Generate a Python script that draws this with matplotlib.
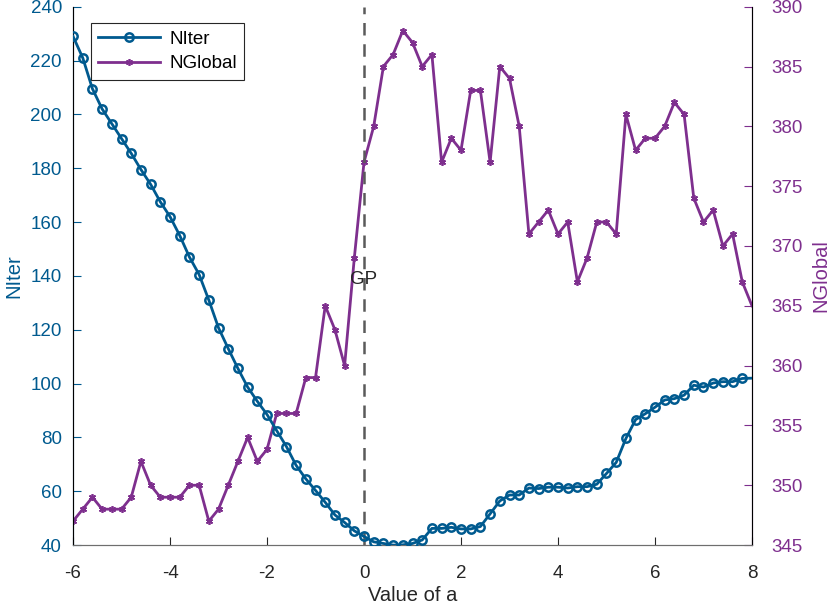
import numpy as np
import matplotlib
matplotlib.use('Agg')
import matplotlib.pyplot as plt

plt.rcParams['font.family'] = ['Liberation Sans', 'DejaVu Sans']
plt.rcParams['axes.unicode_minus'] = False

# values of a: -6 to 8 in steps of 0.2
a = np.round(np.arange(-6, 8.0001, 0.2), 1)

niter = [229, 221, 209.5, 202, 196.5, 191, 185.5, 179.5, 174, 167.5,
         162, 155, 147, 140.5, 131, 120.7, 113, 105.6, 98.7, 93.4,
         88.5, 82.5, 76.6, 69.6, 64.6, 60.3, 55.9, 51.2, 48.4, 45.3,
         43.2, 41.2, 40.6, 40, 40.1, 40.6, 41.9, 46.2, 46.2, 46.6,
         46, 46, 46.9, 51.6, 56.4, 58.6, 58.6, 61.2, 61, 61.5,
         61.5, 61.2, 61.7, 61.7, 62.6, 66.6, 70.7, 79.6, 86.6, 88.8,
         91.2, 93.9, 94.4, 95.7, 99.4, 98.7, 100.2, 100.7, 100.7, 101.9,
         102]

nglobal = [347, 348, 349, 348, 348, 348, 349, 352, 350, 349,
           349, 349, 350, 350, 347, 348, 350, 352, 354, 352,
           353, 356, 356, 356, 359, 359, 365, 363, 360, 369,
           377, 380, 385, 386, 388, 387, 385, 386, 377, 379,
           378, 383, 383, 377, 385, 384, 380, 371, 372, 373,
           371, 372, 367, 369, 372, 372, 371, 381, 378, 379,
           379, 380, 382, 381, 374, 372, 373, 370, 371, 367,
           365]

blue = '#005A8F'
purple = '#7E2F8E'
dark = '#262626'

fig = plt.figure(figsize=(8.3, 6.07), dpi=100)
ax = fig.add_axes([0.088, 0.102, 0.818, 0.887])
ax2 = ax.twinx()

l1, = ax.plot(a, niter, color=blue, lw=2, marker='o', ms=6, mew=1.8,
              mfc='none', mec=blue, markevery=slice(0, -1), label='NIter', zorder=3)
l2, = ax2.plot(a, nglobal, color=purple, lw=2, marker=(6, 2, 0), ms=5, mew=1.2,
               markevery=slice(0, -1), label='NGlobal')

ax.axvline(0, color='#5a5a5a', ls=(0, (5, 3.5)), lw=1.8)
ax.text(0, 138.5, 'GP', color=dark, fontsize=13.5, ha='center', va='center')

ax.set_xlim(-6, 8)
ax.set_ylim(40, 240)
ax2.set_ylim(345, 390)
ax.set_xticks(np.arange(-6, 9, 2))
ax.set_yticks(np.arange(40, 241, 20))
ax2.set_yticks(np.arange(345, 391, 5))

ax.spines['top'].set_visible(False)
ax2.spines['top'].set_visible(False)
ax2.spines['left'].set_color(blue)
ax2.spines['right'].set_color(purple)
ax2.spines['bottom'].set_color('#6e6e6e')
ax.spines['bottom'].set_color('#6e6e6e')

ax.tick_params(axis='y', colors=blue, direction='in', length=6, labelsize=13.5, pad=8)
ax.tick_params(axis='x', colors=dark, direction='in', length=6, labelsize=13.5, pad=14)
ax2.tick_params(axis='y', colors=purple, direction='in', length=6, labelsize=13.5, pad=14)

ax.set_xlabel('Value of a', fontsize=14.5, color=dark, labelpad=3)
ax.set_ylabel('NIter', fontsize=14.5, color=blue, labelpad=5)
ax2.set_ylabel('NGlobal', fontsize=14.5, color=purple, labelpad=6)

leg = ax.legend(handles=[l1, l2], loc='upper left', bbox_to_anchor=(0.012, 0.987),
                fontsize=13.5, fancybox=False, edgecolor=dark, framealpha=1,
                handlelength=3.3, borderpad=0.4, labelspacing=0.4, handletextpad=0.5)
leg.get_frame().set_linewidth(0.8)
ax.set_zorder(ax2.get_zorder() + 1)
ax.patch.set_visible(False)

fig.savefig('out.png', dpi=100)
